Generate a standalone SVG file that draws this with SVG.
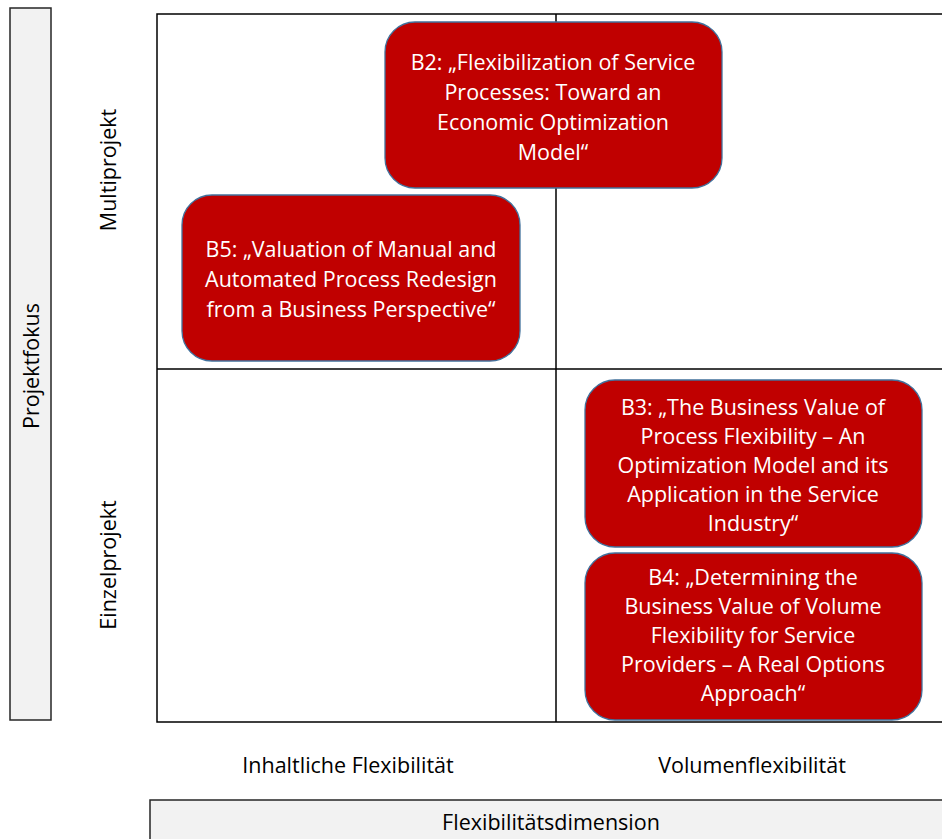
<svg xmlns="http://www.w3.org/2000/svg" width="942" height="839" viewBox="0 0 942 839">
<style>
.bar{fill:#f2f2f2;stroke:#262626;stroke-width:1.5}
.grid{fill:none;stroke:#000;stroke-width:1.5}
.node rect{fill:#c00000;stroke:#41719c;stroke-width:1.3}
.nt{font-family:"Open Sans","Noto Sans",sans-serif;font-size:21.5px;fill:#fff;text-anchor:middle}
.lbl{font-family:"Open Sans","Noto Sans",sans-serif;font-size:21.5px;fill:#000;text-anchor:middle}
</style>
<rect width="942" height="839" fill="#fff"/>
<rect class="bar" x="10" y="8" width="41" height="712"/>
<rect class="bar" x="150" y="800" width="800" height="50"/>
<g id="connectors">
<path class="grid" d="M942 14H157V722H942M556 14V722M157 369H942"/>
</g>
<g id="B2" class="node">
<rect x="385" y="22" width="337" height="166" rx="30"/>
<text class="nt" x="553" y="70">B2: „Flexibilization of Service</text>
<text class="nt" x="553" y="100">Processes: Toward an</text>
<text class="nt" x="553" y="130">Economic Optimization</text>
<text class="nt" x="553" y="160">Model“</text>
</g>
<g id="B5" class="node">
<rect x="182" y="195" width="338" height="166" rx="30"/>
<text class="nt" x="351" y="257">B5: „Valuation of Manual and</text>
<text class="nt" x="351" y="287">Automated Process Redesign</text>
<text class="nt" x="351" y="317">from a Business Perspective“</text>
</g>
<g id="B3" class="node">
<rect x="585" y="380" width="337" height="167" rx="30"/>
<text class="nt" x="753" y="415">B3: „The Business Value of</text>
<text class="nt" x="753" y="444">Process Flexibility – An</text>
<text class="nt" x="753" y="473">Optimization Model and its</text>
<text class="nt" x="753" y="502">Application in the Service</text>
<text class="nt" x="753" y="531">Industry“</text>
</g>
<g id="B4" class="node">
<rect x="585" y="553" width="337" height="167" rx="30"/>
<text class="nt" x="753" y="585">B4: „Determining the</text>
<text class="nt" x="753" y="614">Business Value of Volume</text>
<text class="nt" x="753" y="643">Flexibility for Service</text>
<text class="nt" x="753" y="672">Providers – A Real Options</text>
<text class="nt" x="753" y="701">Approach“</text>
</g>
<g id="labels">
<text class="lbl" transform="translate(116,170) rotate(-90)">Multiprojekt</text>
<text class="lbl" transform="translate(116,565) rotate(-90)">Einzelprojekt</text>
<text class="lbl" transform="translate(39,366) rotate(-90)">Projektfokus</text>
<text class="lbl" x="348" y="773">Inhaltliche Flexibilität</text>
<text class="lbl" x="752" y="773">Volumenflexibilität</text>
<text class="lbl" x="551" y="830">Flexibilitätsdimension</text>
</g>
</svg>
